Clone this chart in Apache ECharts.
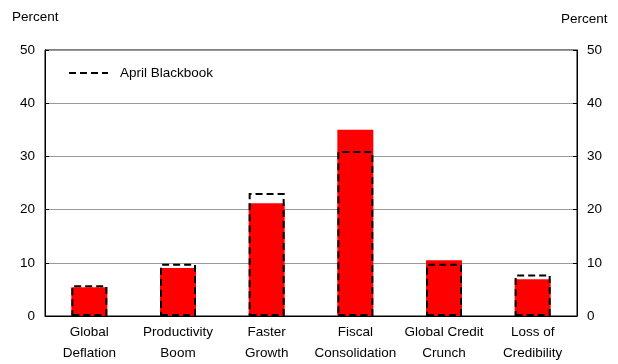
<!DOCTYPE html>
<html>
<head>
<meta charset="utf-8">
<script src="https://cdn.jsdelivr.net/npm/echarts@6/dist/echarts.min.js"></script>
<style>
  html, body { margin: 0; padding: 0; background: #fff; }
  #chart { width: 618px; height: 364px; }
</style>
</head>
<body>
<div id="chart"></div>
<script>
  // scenario probabilities, percent
  const categories = ['Global\nDeflation', 'Productivity\nBoom', 'Faster\nGrowth', 'Fiscal\nConsolidation', 'Global Credit\nCrunch', 'Loss of\nCredibility'];
  const currentVals = [5.4, 9.0, 21.2, 35.0, 10.5, 6.9];
  const aprilVals = [5.8, 9.8, 23.1, 31.0, 9.8, 7.8];
  const yTicks = { min: 0, max: 50, interval: 10 };

  const font = 'Liberation Sans, Arial, sans-serif';
  const fs = 13.5;
  const dashIcon = 'path://M0,0h7v2h-7zM11,0h7v2h-7zM22,0h7v2h-7zM33,0h6v2h-6z';

  const chart = echarts.init(document.getElementById('chart'));
  const yAxisBase = {
    type: 'value',
    min: yTicks.min, max: yTicks.max, interval: yTicks.interval,
    axisLine: { show: true, lineStyle: { color: '#000', width: 1 } },
    axisTick: { show: true, inside: true, length: 4, lineStyle: { color: '#000' } },
    axisLabel: { color: '#000', fontSize: fs, fontFamily: font, margin: 10 },
  };

  chart.setOption({
    animation: false,
    textStyle: { fontFamily: font },
    grid: { left: 45, right: 41, top: 50, bottom: 47, show: true, borderColor: '#000', borderWidth: 1 },
    legend: {
      left: 69, top: 66, padding: 0,
      itemWidth: 39, itemHeight: 2,
      textStyle: { fontSize: fs, color: '#000', fontFamily: font, padding: [0, 0, 0, 7] },
      data: [{ name: 'April Blackbook', icon: dashIcon, itemStyle: { color: '#000', borderWidth: 0 } }]
    },
    graphic: [
      { type: 'text', left: 12, top: 10, style: { text: 'Percent', fontSize: fs, fontFamily: font, fill: '#000' } },
      { type: 'text', left: 561, top: 12, style: { text: 'Percent', fontSize: fs, fontFamily: font, fill: '#000' } }
    ],
    xAxis: {
      type: 'category',
      data: categories,
      axisLine: { lineStyle: { color: '#000', width: 1 } },
      axisTick: { show: false },
      axisLabel: { interval: 0, color: '#000', fontSize: fs, fontFamily: font, lineHeight: 21, margin: 6 }
    },
    yAxis: [
      Object.assign({}, yAxisBase, {
        position: 'left',
        splitLine: { show: true, lineStyle: { color: '#999', width: 1 } }
      }),
      Object.assign({}, yAxisBase, {
        position: 'right',
        splitLine: { show: false }
      })
    ],
    series: [
      {
        name: 'Current',
        type: 'bar',
        data: currentVals,
        barWidth: 36,
        itemStyle: { color: '#ff0000' },
        z: 2
      },
      {
        name: 'April Blackbook',
        type: 'bar',
        data: aprilVals,
        barWidth: 36,
        barGap: '-100%',
        itemStyle: { color: 'rgba(0,0,0,0)', borderColor: '#000', borderWidth: 2, borderType: [7, 4] },
        z: 3
      }
    ]
  });
</script>
</body>
</html>
